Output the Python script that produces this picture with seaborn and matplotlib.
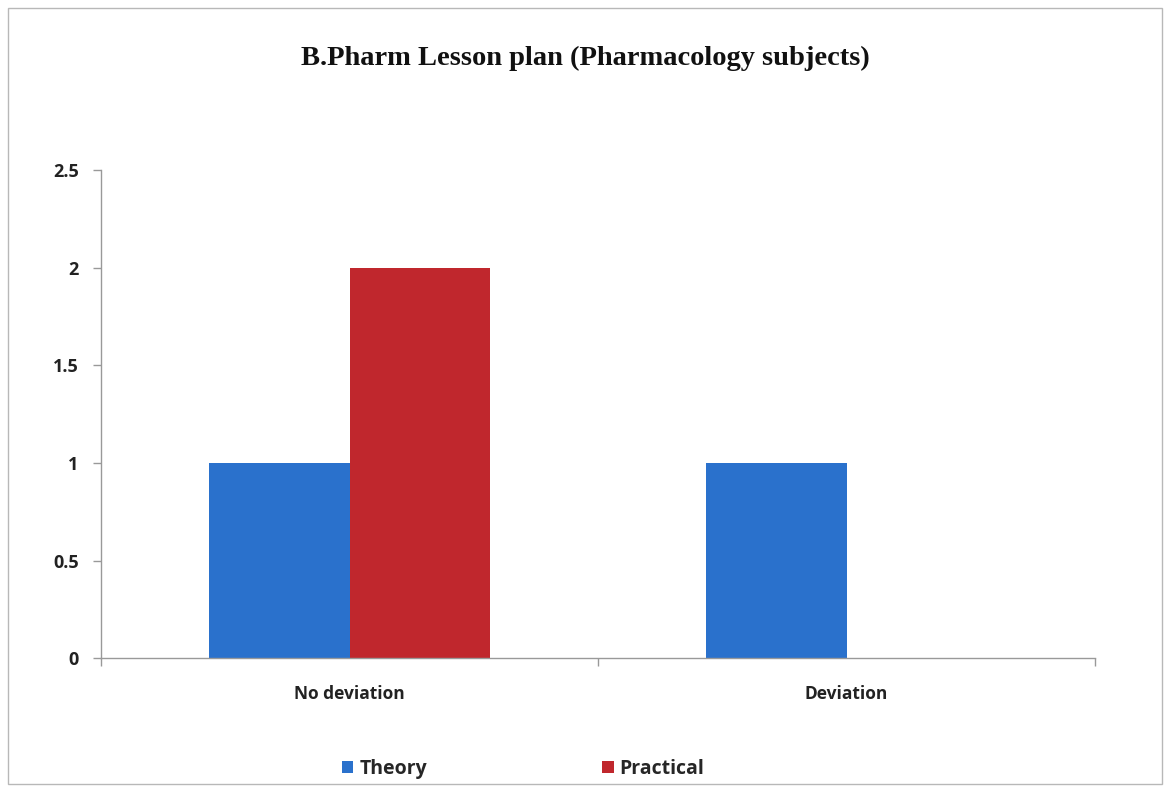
import matplotlib
matplotlib.use("Agg")
import matplotlib.pyplot as plt
import matplotlib.patches as mpatches
from matplotlib.ticker import FixedLocator
import pandas as pd
import seaborn as sns

categories = ["No deviation", "Deviation"]
theory = [1, 1]
practical = [2, 0]
series_names = ["Theory", "Practical"]
colors = ["#2a71cc", "#c0272d"]
title = "B.Pharm Lesson plan (Pharmacology subjects)"
yticks = [0, 0.5, 1, 1.5, 2, 2.5]
ytick_labels = ["0", "0.5", "1", "1.5", "2", "2.5"]

df = pd.DataFrame({
    "category": categories * 2,
    "series": [series_names[0]] * len(categories) + [series_names[1]] * len(categories),
    "value": theory + practical,
})

sns.set_theme(style="white")
plt.rcParams["font.family"] = ["Open Sans", "DejaVu Sans"]

fig = plt.figure(figsize=(11.7, 7.92), dpi=100)
ax = fig.add_axes([0.0863, 0.169, 0.8497, 0.616])

sns.barplot(data=df, x="category", y="value", hue="series", order=categories,
            hue_order=series_names, palette=colors, width=0.567, saturation=1,
            edgecolor="none", linewidth=0, legend=False, ax=ax)

ax.set_xlim(-0.5, 1.5)
ax.set_ylim(0, 2.5)
ax.set_yticks(yticks)
ax.set_yticklabels(ytick_labels, fontsize=13, fontweight="bold", color="#222222")
ax.set_xticks(range(len(categories)))
ax.set_xticklabels(categories, fontsize=12.5, fontweight="bold", color="#222222")
ax.xaxis.set_minor_locator(FixedLocator([-0.5, 0.5, 1.5]))
ax.tick_params(axis="x", which="major", length=0, pad=19)
ax.tick_params(axis="x", which="minor", length=6, width=1, color="#999999", direction="out", bottom=True)
ax.tick_params(axis="y", length=6, width=1, color="#999999", direction="out", left=True, pad=10)
ax.set_xlabel("")
ax.set_ylabel("")

for side in ["top", "right"]:
    ax.spines[side].set_visible(False)
for side in ["left", "bottom"]:
    ax.spines[side].set_color("#999999")
    ax.spines[side].set_linewidth(1)

fig.text(0.5, 0.926, title, ha="center", va="center", fontsize=20.5,
         fontweight="bold", family="Liberation Serif", color="#111111")

handles = [mpatches.Patch(facecolor=c, edgecolor="none", label=n)
           for c, n in zip(colors, series_names)]
fig.legend(handles=handles, loc="center", bbox_to_anchor=(0.447, 0.029), ncol=2,
           frameon=False, handlelength=0.6, handleheight=0.6,
           handletextpad=0.3, columnspacing=9,
           prop={"weight": "bold", "size": 14})

# chart area border
fig.patches.append(mpatches.Rectangle((0.007, 0.01), 0.986, 0.98, transform=fig.transFigure,
                                      fill=False, edgecolor="#b8b8b8", linewidth=1))

fig.savefig("out.png", dpi=100)
